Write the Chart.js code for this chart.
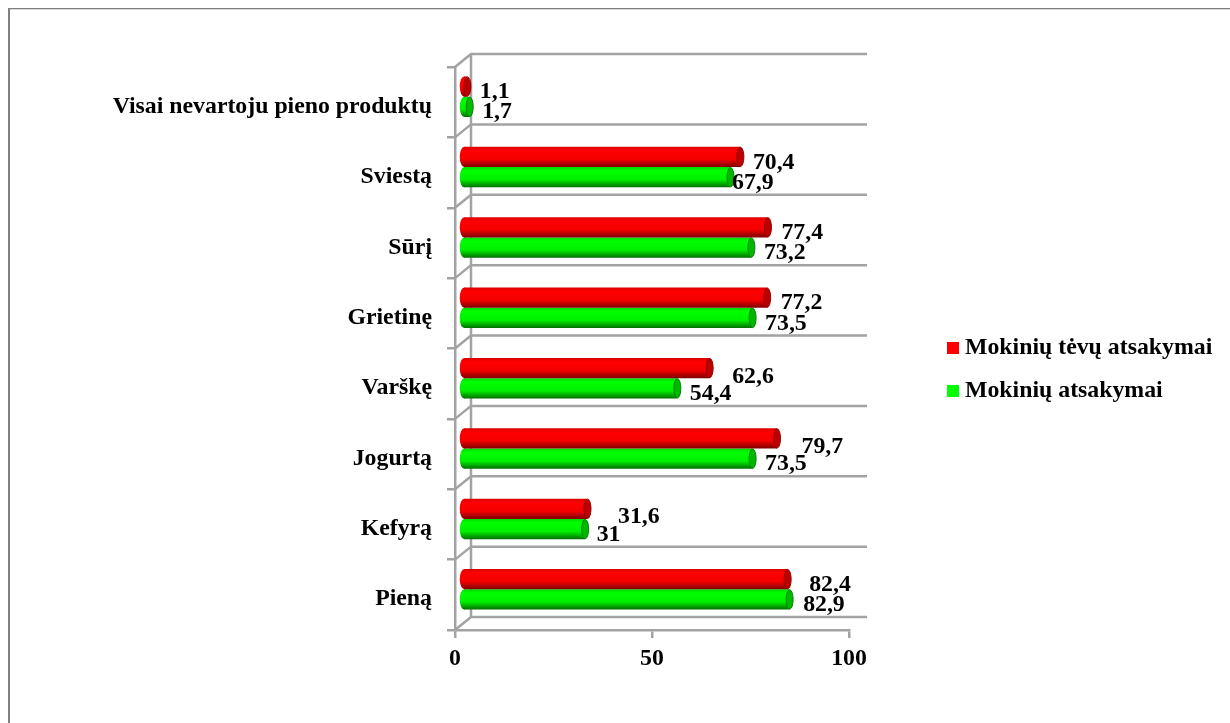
<!DOCTYPE html>
<html>
<head>
<meta charset="utf-8">
<style>
  html, body { margin: 0; background: #fff; overflow: hidden; }
  #frame { position: absolute; left: 8px; top: 8px; right: 0; bottom: 0; border-left: 2px solid #808080; border-top: 1px solid #808080; box-shadow: inset 0 1px 0 #d8d8d8; }
  canvas { position: absolute; left: 0; top: 0; }
</style>
<script src="https://cdn.jsdelivr.net/npm/chart.js@4"></script>
</head>
<body>
<div id="frame"></div>
<canvas id="chart" width="1230" height="723"></canvas>
<script>
const categories = ['Visai nevartoju pieno produktų', 'Sviestą', 'Sūrį', 'Grietinę', 'Varškę', 'Jogurtą', 'Kefyrą', 'Pieną'];
const parentAnswers = [1.1, 70.4, 77.4, 77.2, 62.6, 79.7, 31.6, 82.4];
const studentAnswers = [1.7, 67.9, 73.2, 73.5, 54.4, 73.5, 31, 82.9];
const xTicks = [0, 50, 100];

// hand placed value labels, extra shift from the default spot at the bar end
const parentLabelShiftX = [0, 0, 1, 1, 10, 12, 18, 9];
const parentLabelShiftY = [0, 0, 0, 0, 3, 3, 3, 0];
const studentLabelShiftX = [0, -11, 0, 0, 0, 0, -1, 1];

const serif = '"Liberation Serif", "Times New Roman", serif';
const textSize = 23.8;
const depthX = 8, depthY = -5.5;   // bars sit halfway into the floor
const wallX = 16, wallY = -13;     // back wall offset from the front axes
const capW = 3.5, tailW = 4.5;
const gridColor = '#a3a3a3';

const palette = [
  { stops: ['#d80000', '#ff0000', '#f40000', '#7c0000'], cap: '#bc0000', edge: '#960000' },
  { stops: ['#00d800', '#00ff00', '#00f000', '#006e00'], cap: '#00b800', edge: '#008400' }
];

function cylinderFill(context) {
  const s = palette[context.datasetIndex].stops;
  const chart = context.chart;
  const y = chart.scales.y ? chart.scales.y.getPixelForValue(context.dataIndex) : NaN;
  if (!Number.isFinite(y)) return s[1];
  const top = context.datasetIndex === 0 ? y - 20.3 : y;
  const g = chart.ctx.createLinearGradient(0, top, 0, top + 20.3);
  g.addColorStop(0, s[0]);
  g.addColorStop(0.18, s[1]);
  g.addColorStop(0.62, s[2]);
  g.addColorStop(1, s[3]);
  return g;
}

// depth grid behind the bars
const wallsPlugin = {
  id: 'walls',
  beforeDatasetsDraw(chart) {
    const { ctx, chartArea: a } = chart;
    const band = (a.bottom - a.top) / categories.length;
    ctx.save();
    ctx.strokeStyle = gridColor;
    ctx.lineWidth = 2.5;
    ctx.beginPath();
    for (let i = 0; i <= categories.length; i++) {
      const py = a.top + band * i;
      ctx.moveTo(a.left, py);
      ctx.lineTo(a.left + wallX, py + wallY);
      ctx.lineTo(a.right + 18, py + wallY);
    }
    ctx.moveTo(a.left + wallX, a.top + wallY);
    ctx.lineTo(a.left + wallX, a.bottom + wallY);
    ctx.stroke();
    ctx.restore();
  }
};

// shifts each bar into the depth and puts the round ends on it
const cylinderPlugin = {
  id: 'cylinder',
  beforeDatasetDraw(chart, args) {
    const ctx = chart.ctx;
    ctx.save();
    ctx.translate(depthX, depthY);
    args.meta.data.forEach((bar, i) => {
      const p = bar.getProps(['x', 'y', 'base', 'height'], true);
      ctx.fillStyle = cylinderFill({ chart, dataIndex: i, datasetIndex: args.index });
      ctx.beginPath();
      ctx.ellipse(p.base, p.y, tailW, p.height / 2, 0, 0, Math.PI * 2);
      ctx.fill();
    });
  },
  afterDatasetDraw(chart, args) {
    const ctx = chart.ctx;
    const c = palette[args.index];
    args.meta.data.forEach(bar => {
      const p = bar.getProps(['x', 'y', 'base', 'height'], true);
      ctx.fillStyle = c.cap;
      ctx.strokeStyle = c.edge;
      ctx.lineWidth = 1;
      ctx.beginPath();
      ctx.ellipse(p.x, p.y, capW, p.height / 2 - 0.5, 0, 0, Math.PI * 2);
      ctx.fill();
      ctx.stroke();
    });
    ctx.restore();
  }
};

const valueLabelsPlugin = {
  id: 'valueLabels',
  afterDatasetsDraw(chart) {
    const ctx = chart.ctx;
    ctx.save();
    ctx.font = 'bold ' + textSize + 'px ' + serif;
    ctx.fillStyle = '#000';
    ctx.textAlign = 'left';
    ctx.textBaseline = 'middle';
    chart.data.datasets.forEach((ds, d) => {
      chart.getDatasetMeta(d).data.forEach((bar, i) => {
        const sx = d === 0 ? parentLabelShiftX[i] : studentLabelShiftX[i];
        const sy = d === 0 ? parentLabelShiftY[i] : 0;
        const text = String(ds.data[i]).replace('.', ',');
        ctx.fillText(text, bar.x + depthX + capW + 9 + sx, bar.y + depthY + 5.5 + sy);
      });
    });
    ctx.restore();
  }
};

// legend sits well off the plot, so it is placed by hand
const sideLegendPlugin = {
  id: 'sideLegend',
  afterDraw(chart) {
    const ctx = chart.ctx;
    ctx.save();
    ctx.font = 'bold ' + textSize + 'px ' + serif;
    ctx.textBaseline = 'middle';
    ctx.textAlign = 'left';
    chart.data.datasets.forEach((ds, d) => {
      const y = 348 + d * 43;
      ctx.fillStyle = ds.legendColor;
      ctx.fillRect(947, y - 6, 12, 12);
      ctx.fillStyle = '#000';
      ctx.fillText(ds.label, 965, y);
    });
    ctx.restore();
  }
};

new Chart(document.getElementById('chart'), {
  type: 'bar',
  data: {
    labels: categories,
    datasets: [
      { label: 'Mokinių tėvų atsakymai', data: parentAnswers, legendColor: '#ff0000', backgroundColor: cylinderFill },
      { label: 'Mokinių atsakymai', data: studentAnswers, legendColor: '#00ff00', backgroundColor: cylinderFill }
    ]
  },
  plugins: [wallsPlugin, cylinderPlugin, valueLabelsPlugin, sideLegendPlugin],
  options: {
    indexAxis: 'y',
    responsive: false,
    animation: false,
    clip: false,
    categoryPercentage: 0.577,
    barPercentage: 1,
    layout: { padding: { left: 0, top: 67, right: 381, bottom: 0 } },
    plugins: { legend: { display: false }, tooltip: { enabled: false } },
    scales: {
      x: {
        min: 0,
        max: 100,
        afterBuildTicks(axis) { axis.ticks = xTicks.map(v => ({ value: v })); },
        afterFit(axis) { axis.height = 93; },
        border: { color: gridColor, width: 2.5 },
        grid: { drawOnChartArea: false, drawTicks: true, tickLength: 8, color: gridColor, lineWidth: 2.5 },
        ticks: { color: '#000', padding: 7, maxRotation: 0, font: { family: serif, weight: 'bold', size: textSize } }
      },
      y: {
        afterFit(axis) { axis.width = 455; },
        border: { color: gridColor, width: 2.5 },
        grid: { drawOnChartArea: false, drawTicks: true, tickLength: 8, color: gridColor, lineWidth: 2.5 },
        ticks: { color: '#000', padding: 15, autoSkip: false, labelOffset: 4.5, font: { family: serif, weight: 'bold', size: textSize } }
      }
    }
  }
});
</script>
</body>
</html>
